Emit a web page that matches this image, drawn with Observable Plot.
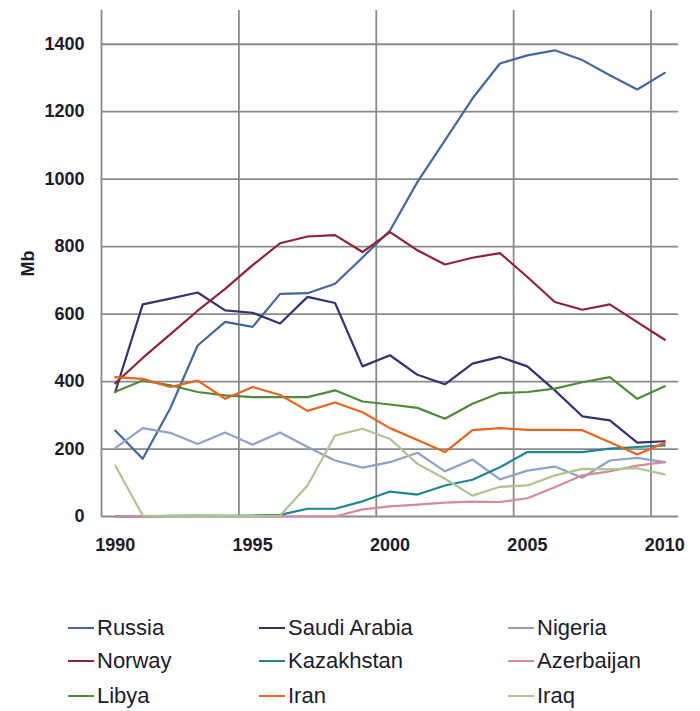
<!DOCTYPE html>
<html>
<head>
<meta charset="utf-8">
<script src="https://cdn.jsdelivr.net/npm/d3@7"></script>
<script src="https://cdn.jsdelivr.net/npm/@observablehq/plot@0.6"></script>
<style>
  html, body { margin: 0; padding: 0; background: #fff; }
  #wrap { position: relative; width: 700px; height: 711px; overflow: hidden; }
  #legend { position: absolute; left: 0; top: 0; width: 700px; height: 711px; pointer-events: none; }
  .item { position: absolute; display: flex; align-items: center; font-family: "Liberation Sans Narrow", "Liberation Sans", sans-serif; font-size: 22px; color: #1c1c2a; }
  .sw { display: inline-block; width: 26px; height: 2.5px; margin-right: 3px; }
</style>
</head>
<body>
<div id="wrap"><div id="chart"></div><div id="legend"></div></div>
<script>
const years = [1990,1991,1992,1993,1994,1995,1996,1997,1998,1999,2000,2001,2002,2003,2004,2005,2006,2007,2008,2009,2010];
const countries = ["Russia","Saudi Arabia","Nigeria","Norway","Kazakhstan","Azerbaijan","Libya","Iran","Iraq"];
const russia     = [255,171,320,507,577,562,660,662,690,768,848,992,1115,1239,1343,1367,1382,1353,1308,1266,1315];
const saudiArabia= [369,629,646,664,611,604,572,651,633,445,478,420,392,453,473,445,374,297,285,219,223];
const nigeria    = [203,262,248,215,249,213,249,206,166,145,161,189,134,169,110,136,148,115,166,174,161];
const norway     = [395,470,540,610,675,745,810,830,834,784,843,789,747,767,781,710,636,613,629,576,524];
const kazakhstan = [0,0,2,3,2,3,5,23,23,45,74,65,92,109,146,191,191,191,201,206,211];
const azerbaijan = [0,0,0,0,0,0,0,0,0,21,30,35,41,44,43,54,87,122,134,151,161];
const libya      = [370,403,389,369,359,354,354,354,374,341,332,322,290,334,366,369,379,398,413,349,386];
const iran       = [413,408,384,403,349,384,360,313,338,309,262,227,191,256,262,257,257,256,220,184,219];
const iraq       = [151,3,2,2,2,2,3,92,240,260,230,156,112,62,88,92,122,141,140,143,125];
const yTicks = [0,200,400,600,800,1000,1200,1400];
const xTickYears = [1990,1995,2000,2005,2010];

const colors = ["#44679c","#33336f","#8fa2c6","#8c2436","#1f8496","#d68b9b","#4f8b3b","#e8641f","#aec592"];
const seriesValues = [russia, saudiArabia, nigeria, norway, kazakhstan, azerbaijan, libya, iran, iraq];

const data = [];
countries.forEach((name, i) => {
  seriesValues[i].forEach((v, j) => data.push({name, year: years[j], value: v}));
});

const plot = Plot.plot({
  width: 700,
  height: 580,
  marginLeft: 101,
  marginRight: 22,
  marginTop: 10,
  marginBottom: 64,
  style: {fontFamily: "'Liberation Sans Narrow', 'Liberation Sans', sans-serif", fontSize: "18px", fontWeight: "bold", color: "#1c1c2a", background: "#fff"},
  x: {domain: [1990, 2011], ticks: xTickYears.map(y => y + 0.5), tickFormat: d => String(Math.floor(d)), tickSize: 0, tickPadding: 22, label: null},
  y: {domain: [0, 1500], ticks: yTicks, tickFormat: d => String(d), tickSize: 0, tickPadding: 17, label: "Mb", labelAnchor: "center", labelArrow: "none", labelOffset: 80},
  color: {domain: countries, range: colors},
  marks: [
    Plot.ruleY(yTicks, {stroke: "#8a8a8a", strokeWidth: 1.8, strokeOpacity: 1}),
    Plot.ruleX(xTickYears, {y1: 0, y2: 1500, stroke: "#8a8a8a", strokeWidth: 1.8}),
    Plot.line(data, {x: d => d.year + 0.5, y: "value", z: "name", stroke: "name", strokeWidth: 2.2, strokeLinejoin: "round"})
  ]
});
document.getElementById("chart").appendChild(plot);

// Legend
const legend = document.getElementById("legend");
const colX = [68, 259, 508];
const rowY = [629, 662, 697];
countries.forEach((name, i) => {
  const r = Math.floor(i / 3), c = i % 3;
  const div = document.createElement("div");
  div.className = "item";
  div.style.left = colX[c] + "px";
  div.style.top = (rowY[r] - 14) + "px";
  div.innerHTML = `<span class="sw" style="background:${colors[i]}"></span><span>${name}</span>`;
  legend.appendChild(div);
});
</script>
</body>
</html>
